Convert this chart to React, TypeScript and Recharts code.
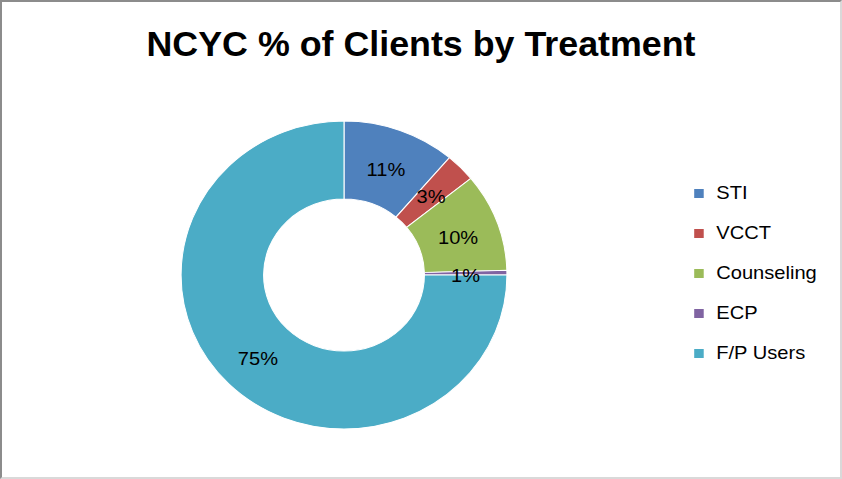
import React from "react";
import { PieChart, Pie, Cell, Legend } from "recharts";

const categories = ["STI", "VCCT", "Counseling", "ECP", "F/P Users"];
const shares = [11.2, 3.0, 10.3, 0.5, 75.0];
const colors = ["#4F81BD", "#C0504D", "#9BBB59", "#8064A2", "#4BACC6"];
const title = "NCYC % of Clients by Treatment";

const data = categories.map((name, i) => ({ name, value: shares[i] }));

const FONT = "'Liberation Sans', 'DejaVu Sans', sans-serif";
const RAD = Math.PI / 180;
const SX = 1.058;
const CX = 344;

const renderLabel = (props: any) => {
  const { cx, cy, midAngle, innerRadius, outerRadius, value } = props;
  const r = (innerRadius + outerRadius) / 2;
  const x = cx + r * Math.cos(-midAngle * RAD);
  const y = cy + r * Math.sin(-midAngle * RAD) + 2;
  return (
    <text
      x={x}
      y={y}
      textAnchor="middle"
      dominantBaseline="central"
      fill="#000"
      fontSize={19}
      fontFamily={FONT}
    >
      {`${Math.round(value)}%`}
    </text>
  );
};

const renderLegend = (props: any) => {
  const payload = (props.payload || []).slice();
  const order = (n: string) => categories.indexOf(n);
  payload.sort((a: any, b: any) => order(a.value) - order(b.value));
  return (
    <div style={{ fontFamily: FONT, fontSize: 19, color: "#000" }}>
      {payload.map((p: any, i: number) => (
        <div
          key={i}
          style={{ display: "flex", alignItems: "center", height: 40 }}
        >
          <span
            style={{
              display: "inline-block",
              width: 9,
              height: 9,
              background: colors[order(p.value)] || p.color,
              marginRight: 12,
            }}
          />
          <span style={{ whiteSpace: "nowrap" }}>{p.value}</span>
        </div>
      ))}
    </div>
  );
};

export default function App() {
  return (
    <div
      style={{
        position: "absolute",
        left: 0,
        top: 0,
        width: 842,
        height: 479,
        boxSizing: "border-box",
        borderLeft: "2px solid #8c8c8c",
        borderTop: "2px solid #8c8c8c",
        borderRight: "2px solid #d9d9d9",
        borderBottom: "2px solid #d9d9d9",
        background: "#fff",
        overflow: "hidden",
      }}
    >
      <div
        style={{
          position: "absolute",
          left: -2,
          top: 22,
          width: 842,
          textAlign: "center",
          fontFamily: FONT,
          fontWeight: "bold",
          fontSize: 35.8,
          color: "#000",
        }}
      >
        {title}
      </div>
      <div
        style={{
          position: "absolute",
          left: -2,
          top: -2,
          transform: `scaleX(${SX})`,
          transformOrigin: `${CX}px 0`,
        }}
      >
        <PieChart width={842} height={479}>
          <Pie
            data={data}
            dataKey="value"
            nameKey="name"
            cx={CX - 5}
            cy={270}
            outerRadius={154}
            innerRadius={76}
            startAngle={90}
            endAngle={-270}
            stroke="#fff"
            strokeWidth={1}
            label={renderLabel}
            labelLine={false}
            isAnimationActive={false}
          >
            {data.map((d, i) => (
              <Cell key={d.name} fill={colors[i]} />
            ))}
          </Pie>
          <Legend
            layout="vertical"
            verticalAlign="top"
            align="right"
            content={renderLegend}
            wrapperStyle={{ left: CX + (694 - CX) / SX, top: 173, width: 140 }}
          />
        </PieChart>
      </div>
    </div>
  );
}
